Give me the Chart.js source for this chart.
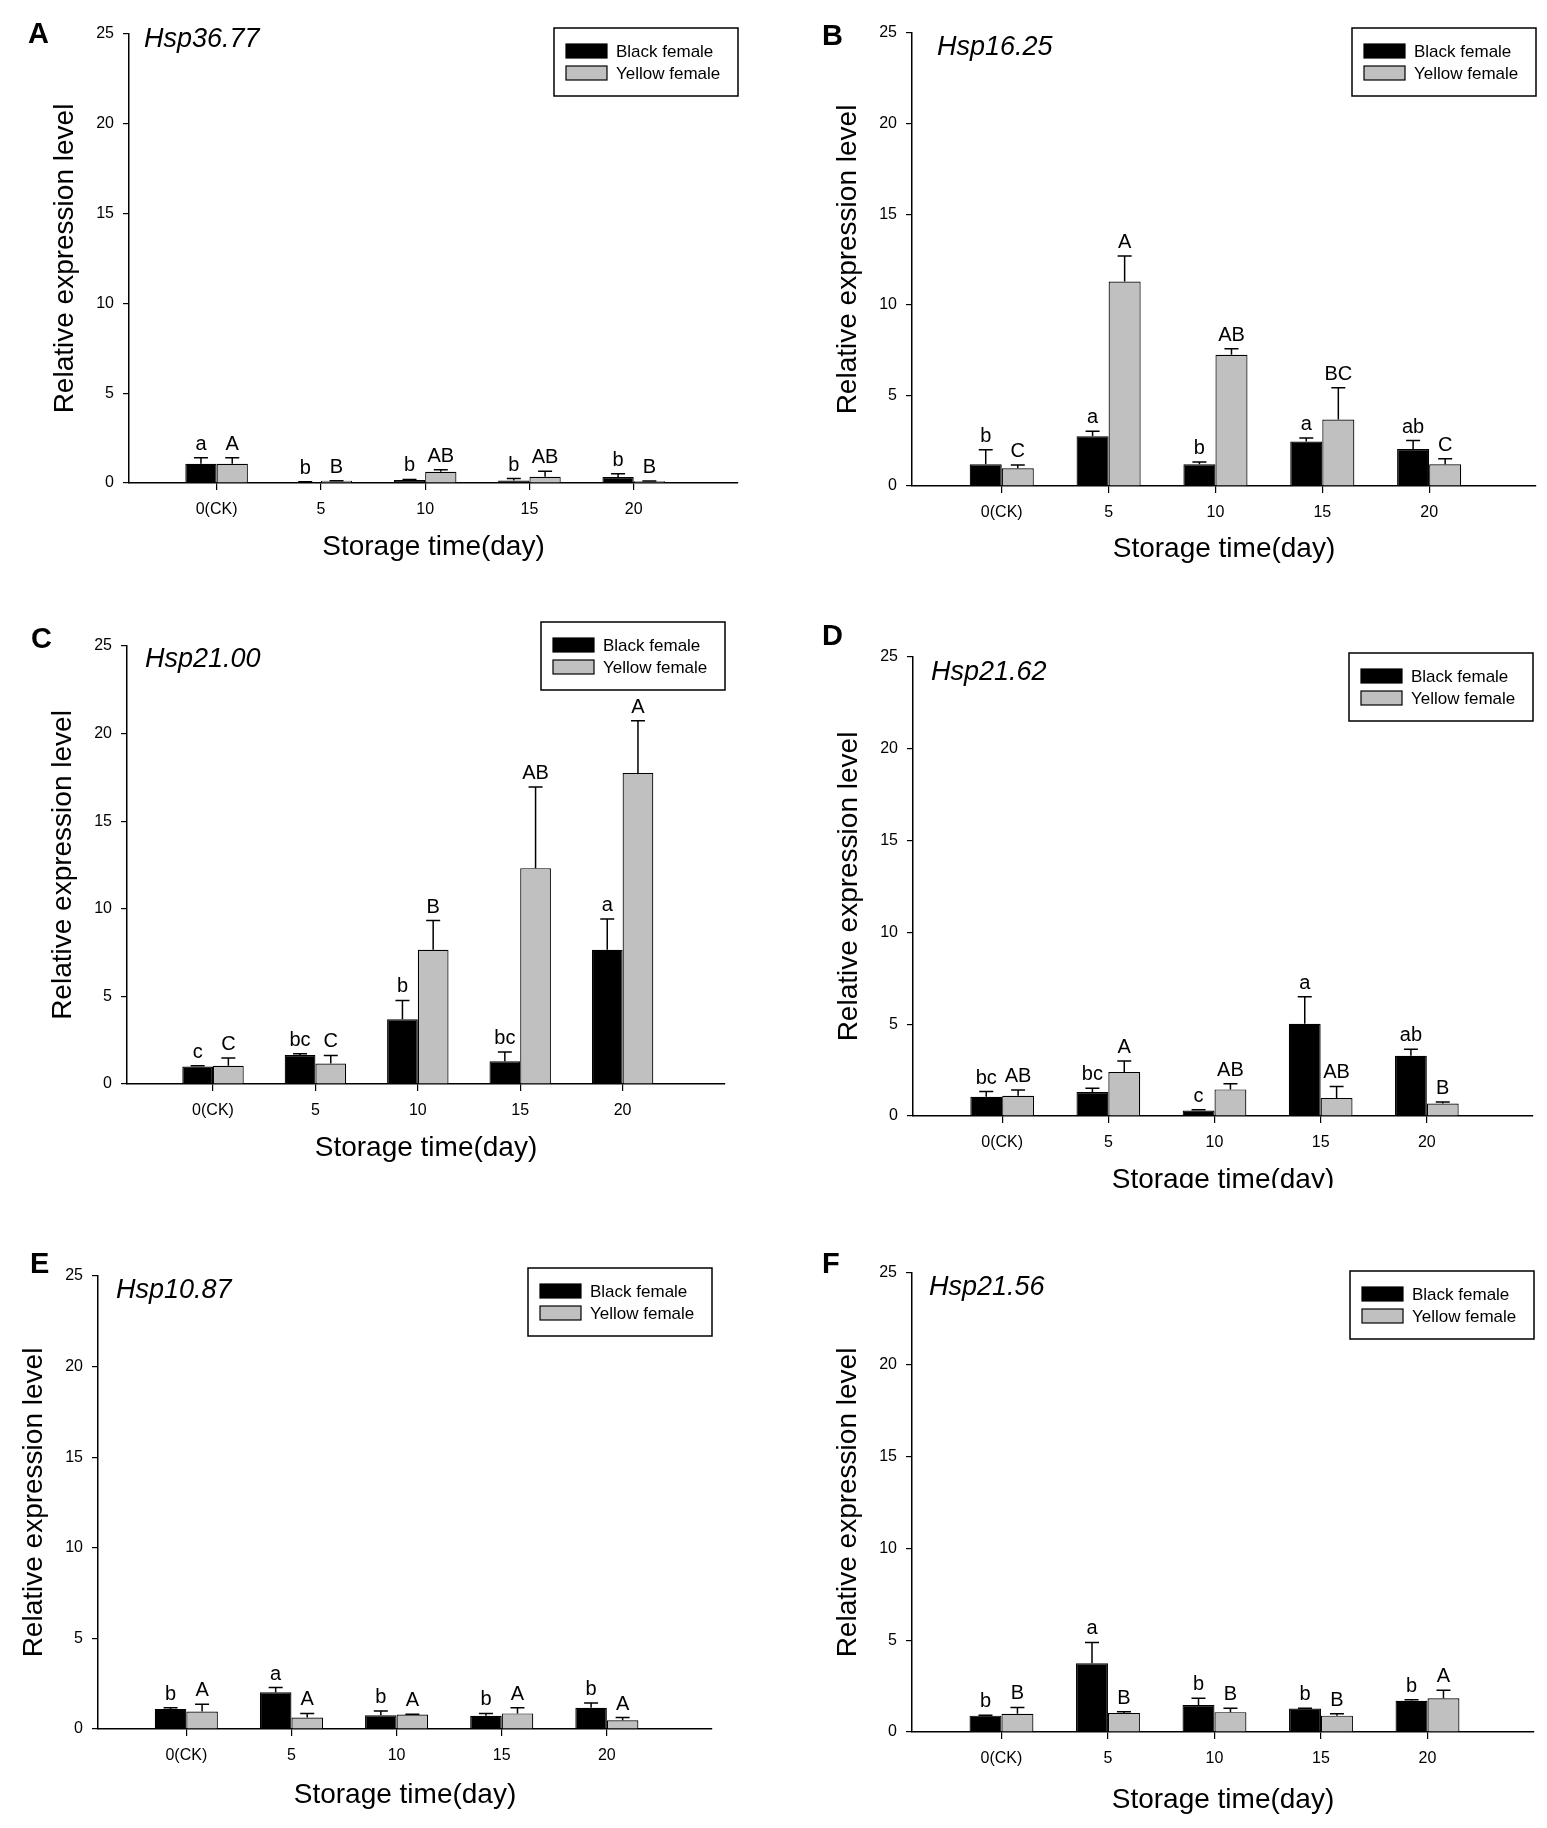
<!DOCTYPE html>
<html>
<head>
<meta charset="utf-8">
<script src="https://cdn.jsdelivr.net/npm/chart.js@4.4.1/dist/chart.umd.min.js"></script>
<style>
  body { margin: 0; background: #fff; }
  #page { position: relative; width: 1547px; height: 1828px; background: #fff; }
  .panel { position: absolute; overflow: hidden; }
  .panel canvas { display: block; }
</style>
</head>
<body>
<div id="page"></div>
<script>
// categories and series
const days = ['0(CK)', '5', '10', '15', '20'];
const seriesNames = ['Black female', 'Yellow female'];
const genes = ['Hsp36.77', 'Hsp16.25', 'Hsp21.00', 'Hsp21.62', 'Hsp10.87', 'Hsp21.56'];
const panelLetters = ['A', 'B', 'C', 'D', 'E', 'F'];
const yTicks = [0, 5, 10, 15, 20, 25];

// mean values, one row per panel (A..F)
const blackMean = [
	[1.07, 0.05, 0.17, 0.14, 0.33],
	[1.20, 2.75, 1.20, 2.45, 2.04],
	[1.00, 1.65, 3.70, 1.30, 7.66],
	[1.05, 1.31, 0.30, 5.02, 3.28],
	[1.11, 2.03, 0.76, 0.73, 1.17],
	[0.89, 3.74, 1.47, 1.28, 1.70]
];
const yellowMean = [
	[1.07, 0.12, 0.62, 0.35, 0.10],
	[0.98, 11.28, 7.24, 3.67, 1.20],
	[1.04, 1.17, 7.66, 12.32, 17.75],
	[1.10, 2.39, 1.45, 0.98, 0.68],
	[0.96, 0.63, 0.80, 0.86, 0.48],
	[0.99, 1.03, 1.08, 0.89, 1.84]
];
// error bar (upper) sizes
const blackErr = [
	[0.33, 0.02, 0.03, 0.11, 0.18],
	[0.80, 0.27, 0.13, 0.20, 0.47],
	[0.04, 0.07, 1.07, 0.53, 1.76],
	[0.28, 0.20, 0.04, 1.47, 0.36],
	[0.06, 0.26, 0.23, 0.13, 0.26],
	[0.02, 1.14, 0.37, 0.02, 0.06]
];
const yellowErr = [
	[0.33, 0.01, 0.12, 0.31, 0.01],
	[0.18, 1.42, 0.33, 1.75, 0.31],
	[0.44, 0.46, 1.67, 4.63, 2.99],
	[0.31, 0.60, 0.30, 0.63, 0.08],
	[0.40, 0.23, 0.02, 0.31, 0.15],
	[0.35, 0.07, 0.22, 0.10, 0.43]
];
// significance letters
const blackSig = [
	['a', 'b', 'b', 'b', 'b'],
	['b', 'a', 'b', 'a', 'ab'],
	['c', 'bc', 'b', 'bc', 'a'],
	['bc', 'bc', 'c', 'a', 'ab'],
	['b', 'a', 'b', 'b', 'b'],
	['b', 'a', 'b', 'b', 'b']
];
const yellowSig = [
	['A', 'B', 'AB', 'AB', 'B'],
	['C', 'A', 'AB', 'BC', 'C'],
	['C', 'C', 'B', 'AB', 'A'],
	['AB', 'A', 'AB', 'AB', 'B'],
	['A', 'A', 'A', 'A', 'A'],
	['B', 'B', 'B', 'B', 'A']
];

// page layout of each panel (pixels on the page)
const layouts = [
	{ box: [0, 0, 773, 600],      clipH: 600, area: [129, 34, 738, 483],     letter: [28, 43],    title: [15, 13], legendTop: -6,  xGap: 64 },
	{ box: [773, 0, 774, 600],    clipH: 600, area: [912, 33, 1536, 486],    letter: [822, 45],   title: [25, 22], legendTop: -5,  xGap: 63 },
	{ box: [0, 600, 773, 620],    clipH: 620, area: [127, 646, 725, 1084],   letter: [31, 648],   title: [18, 21], legendTop: -24, xGap: 64 },
	{ box: [773, 620, 774, 620],  clipH: 568, area: [913, 657, 1533, 1116],  letter: [822, 645],  title: [18, 23], legendTop: -4,  xGap: 64 },
	{ box: [0, 1228, 773, 600],   clipH: 600, area: [98, 1276, 712, 1729],   letter: [30, 1273],  title: [18, 22], legendTop: -8,  xGap: 66 },
	{ box: [773, 1228, 774, 600], clipH: 600, area: [912, 1273, 1534, 1732], letter: [822, 1273], title: [17, 22], legendTop: -2,  xGap: 68 }
];

const SANS = "'Liberation Sans', Arial, Helvetica, sans-serif";
const GREY = '#c0c0c0';
const Y_TITLE_W = 81;   // y axis box width, title centre sits 64px left of the axis
const TITLE_HALF = 16.8; // half line height of the 28px axis titles

// error bars, letters, gene name, panel letter and framed legend
const decorPlugin = {
	id: 'decor',
	afterDatasetsDraw(chart, args, opts) {
		const ctx = chart.ctx;
		const yScale = chart.scales.y;
		const area = chart.chartArea;
		ctx.save();
		chart.data.datasets.forEach((ds, d) => {
			const meta = chart.getDatasetMeta(d);
			meta.data.forEach((bar, i) => {
				const top = yScale.getPixelForValue(ds.data[i].y + ds.err[i]);
				ctx.strokeStyle = '#000';
				ctx.lineWidth = 1.5;
				ctx.beginPath();
				ctx.moveTo(bar.x, bar.y);
				ctx.lineTo(bar.x, top);
				ctx.moveTo(bar.x - 7, top);
				ctx.lineTo(bar.x + 7, top);
				ctx.stroke();
				ctx.fillStyle = '#000';
				ctx.font = '20px ' + SANS;
				ctx.textAlign = 'center';
				ctx.textBaseline = 'alphabetic';
				ctx.fillText(ds.sig[i], bar.x, Math.min(top, bar.y) - 8);
			});
		});

		// gene name inside the plot
		ctx.font = 'italic 27px ' + SANS;
		ctx.textAlign = 'left';
		ctx.textBaseline = 'alphabetic';
		ctx.fillText(opts.gene, area.left + opts.title[0], area.top + opts.title[1]);

		// panel letter
		ctx.font = 'bold 29px ' + SANS;
		ctx.fillText(opts.letter, opts.letterPos[0], opts.letterPos[1]);

		// legend box in the top right corner
		const lw = 184, lh = 68;
		const lx = area.right - lw, ly = area.top + opts.legendTop;
		ctx.lineWidth = 1.5;
		ctx.strokeRect(lx, ly, lw, lh);
		ctx.font = '17px ' + SANS;
		ctx.textBaseline = 'middle';
		chart.data.datasets.forEach((ds, d) => {
			const cy = ly + 23 + d * 22;
			ctx.fillStyle = ds.backgroundColor;
			ctx.fillRect(lx + 12, cy - 7, 41, 14);
			ctx.lineWidth = 1.2;
			ctx.strokeRect(lx + 12, cy - 7, 41, 14);
			ctx.fillStyle = '#000';
			ctx.fillText(ds.label, lx + 62, cy + 1);
		});
		ctx.restore();
	}
};

const page = document.getElementById('page');

layouts.forEach((lay, p) => {
	const [bl, bt, bw, bh] = lay.box;
	const [al, at, ar, ab] = lay.area;

	const wrap = document.createElement('div');
	wrap.className = 'panel';
	wrap.style.left = bl + 'px';
	wrap.style.top = bt + 'px';
	wrap.style.width = bw + 'px';
	wrap.style.height = lay.clipH + 'px';
	const canvas = document.createElement('canvas');
	canvas.width = bw;
	canvas.height = bh;
	canvas.style.width = bw + 'px';
	canvas.style.height = bh + 'px';
	wrap.appendChild(canvas);
	page.appendChild(wrap);

	const xAxisH = lay.xGap + TITLE_HALF;

	new Chart(canvas.getContext('2d'), {
		type: 'bar',
		data: {
			datasets: [
				{
					label: seriesNames[0],
					data: blackMean[p].map((v, i) => ({ x: i, y: v })),
					err: blackErr[p],
					sig: blackSig[p],
					backgroundColor: '#000',
					borderColor: '#000',
					borderWidth: 1.2
				},
				{
					label: seriesNames[1],
					data: yellowMean[p].map((v, i) => ({ x: i, y: v })),
					err: yellowErr[p],
					sig: yellowSig[p],
					backgroundColor: GREY,
					borderColor: '#000',
					borderWidth: 1.2
				}
			]
		},
		options: {
			responsive: false,
			animation: false,
			devicePixelRatio: 1,
			categoryPercentage: 0.6,
			barPercentage: 1.0,
			layout: {
				padding: {
					left: al - bl - Y_TITLE_W,
					top: at - bt,
					right: bl + bw - ar,
					bottom: bt + bh - ab - xAxisH
				}
			},
			plugins: {
				legend: { display: false },
				tooltip: { enabled: false },
				decor: {
					gene: genes[p],
					letter: panelLetters[p],
					letterPos: [lay.letter[0] - bl, lay.letter[1] - bt],
					title: lay.title,
					legendTop: lay.legendTop
				}
			},
			scales: {
				x: {
					type: 'linear',
					min: -0.84,
					max: 5,
					offset: false,
					afterBuildTicks: s => { s.ticks = days.map((d, i) => ({ value: i })); },
					afterFit: s => { s.height = xAxisH; },
					ticks: {
						color: '#000',
						font: { family: SANS, size: 16 },
						padding: 10,
						autoSkip: false,
						maxRotation: 0,
						callback: v => days[v]
					},
					grid: { display: true, offset: false, drawOnChartArea: false, drawTicks: true, tickLength: 7, color: '#000', lineWidth: 1.2 },
					border: { display: true, color: '#000', width: 1.5 },
					title: {
						display: true,
						text: 'Storage time(day)',
						color: '#000',
						font: { family: SANS, size: 28 },
						padding: 0
					}
				},
				y: {
					min: 0,
					max: 25,
					afterBuildTicks: s => { s.ticks = yTicks.map(v => ({ value: v })); },
					afterFit: s => { s.width = Y_TITLE_W; },
					ticks: {
						color: '#000',
						font: { family: SANS, size: 16 },
						padding: 9
					},
					grid: { display: true, drawOnChartArea: false, drawTicks: true, tickLength: 6, color: '#000', lineWidth: 1.2 },
					border: { display: true, color: '#000', width: 1.5 },
					title: {
						display: true,
						text: 'Relative expression level',
						color: '#000',
						font: { family: SANS, size: 28 },
						padding: 0
					}
				}
			}
		},
		plugins: [decorPlugin]
	});
});
</script>
</body>
</html>
